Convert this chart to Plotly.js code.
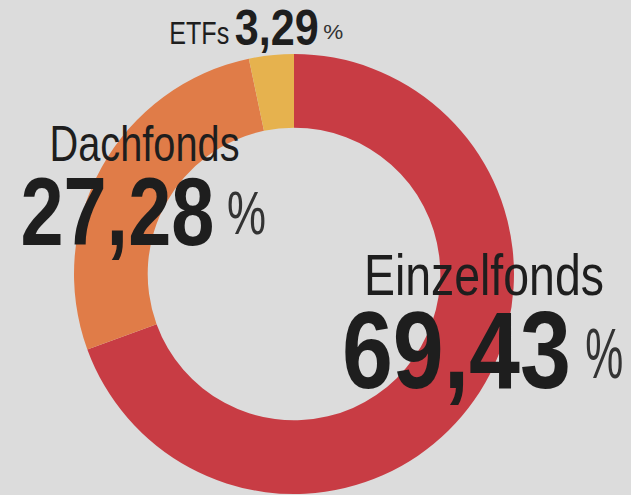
<!DOCTYPE html>
<html><head><meta charset="utf-8">
<script src="https://cdn.plot.ly/plotly-3.0.1.min.js"></script>
<style>html,body{margin:0;padding:0;background:#dcdcdc;}#chart{width:631px;height:495px;}</style>
</head><body><div id="chart"></div>
<script>
const labels = ["Einzelfonds", "Dachfonds", "ETFs"];
const values = [69.43, 27.28, 3.29];
const colors = ["#c83c44", "#e07c48", "#e6b24e"];

const W = 631, H = 495;
function px(x){return x / W;}
function py(y){return 1 - y / H;}
function fmt(v){return v.toFixed(2).replace('.', ',');}

const cx = 294, cy = 274, R = 220;
const fam = "Liberation Sans, Arial, sans-serif";
const ink = "#1e1e1e";

// per label: label (center x, center y, size, width), number, percent sign
const place = [
  {l:[484, 274, 58, 240], n:[456, 350, 109, 229], q:[604, 354, 70, 38]},
  {l:[144, 144, 50, 190], n:[117, 211, 97, 194],  q:[247, 212, 62, 39]},
  {l:[199, 33,  32, 60],  n:[276, 28,  50, 84],   q:[333, 32,  21, 20]}
];

const annotations = [];
const widths = [];
labels.forEach((lab, i) => {
  const p = place[i];
  const items = [
    [lab, p.l, 400, ink],
    [fmt(values[i]), p.n, 700, ink],
    ['%', p.q, 400, '#333']
  ];
  items.forEach(([t, a, w, c]) => {
    annotations.push({xref:'paper', yref:'paper', x:px(a[0]), y:py(a[1]), xanchor:'center', yanchor:'middle',
      text:t, showarrow:false, borderpad:0, font:{family:fam, size:a[2], weight:w, color:c}});
    widths.push(a[3]);
  });
});

const trace = {
  type:'pie', labels:labels, values:values, hole:0.665, sort:false, direction:'clockwise', rotation:0,
  marker:{colors:colors, line:{width:0}}, textinfo:'none', hoverinfo:'label+percent',
  domain:{x:[(cx-R)/W, (cx+R)/W], y:[(H-cy-R)/H, (H-cy+R)/H]}
};

Plotly.newPlot('chart', [trace], {
  width:W, height:H, margin:{l:0,r:0,t:0,b:0}, showlegend:false,
  paper_bgcolor:'#dcdcdc', plot_bgcolor:'#dcdcdc', annotations:annotations
}, {displayModeBar:false, staticPlot:true}).then(gd => {
  const groups = gd.querySelectorAll('.annotation-text-g');
  groups.forEach((g, k) => {
    const el = g.querySelector('.annotation-text');
    const rect = g.querySelector('rect.bg');
    if (!el || !widths[k]) return;
    el.setAttribute('textLength', widths[k]);
    el.setAttribute('lengthAdjust', 'spacingAndGlyphs');
    if (rect) {
      const ow = parseFloat(rect.getAttribute('width')) || 0;
      const rx = parseFloat(rect.getAttribute('x')) || 0;
      rect.setAttribute('x', rx + (ow - widths[k]) / 2);
      rect.setAttribute('width', widths[k]);
    }
  });
});
</script></body></html>
